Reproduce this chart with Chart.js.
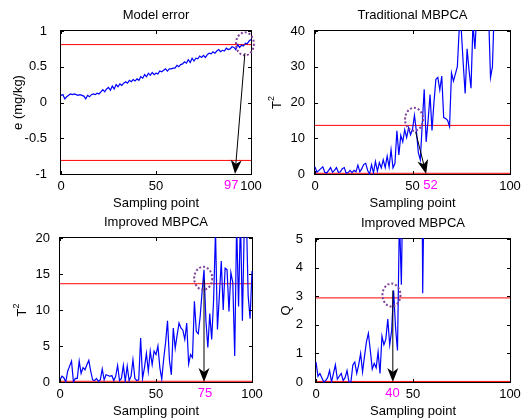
<!DOCTYPE html>
<html>
<head>
<meta charset="utf-8">
<script src="https://cdn.jsdelivr.net/npm/chart.js@4.4.0/dist/chart.umd.min.js"></script>
<style>
body { margin: 0; background: #fff; }
#wrap { position: relative; width: 528px; height: 420px; }
canvas { position: absolute; }
</style>
</head>
<body>
<div id="wrap">
  <canvas id="c1" width="264" height="210" style="left:0;top:0"></canvas>
  <canvas id="c2" width="264" height="210" style="left:264px;top:0"></canvas>
  <canvas id="c3" width="264" height="210" style="left:0;top:210px"></canvas>
  <canvas id="c4" width="264" height="210" style="left:264px;top:210px"></canvas>
</div>
<script>
// sampling points 0..100
const samplePoints = Array.from({ length: 101 }, (_, i) => i);
const xTicks = [0, 50, 100];

// model error e (mg/kg)
const errorValues = [
  0.10, 0.11, 0.05, 0.08, 0.10, 0.12, 0.11, 0.12, 0.11, 0.10,
  0.11, 0.10, 0.09, 0.05, 0.10, 0.08, 0.11, 0.12, 0.11, 0.13,
  0.12, 0.15, 0.18, 0.15, 0.19, 0.21, 0.17, 0.23, 0.19, 0.25,
  0.22, 0.26, 0.24, 0.27, 0.29, 0.27, 0.31, 0.29, 0.32, 0.30,
  0.33, 0.31, 0.36, 0.34, 0.39, 0.36, 0.41, 0.38, 0.42, 0.39,
  0.41, 0.40, 0.44, 0.43, 0.45, 0.47, 0.44, 0.47, 0.47, 0.48,
  0.48, 0.52, 0.50, 0.53, 0.54, 0.57, 0.55, 0.60, 0.56, 0.62,
  0.58, 0.62, 0.61, 0.65, 0.63, 0.66, 0.63, 0.67, 0.69, 0.68,
  0.71, 0.69, 0.72, 0.74, 0.71, 0.73, 0.72, 0.76, 0.74, 0.75,
  0.78, 0.77, 0.74, 0.81, 0.77, 0.80, 0.79, 0.83, 0.82, 0.86,
  0.88
];
const errorLimits = [0.81, -0.81];
const errorTicks = [-1, -0.5, 0, 0.5, 1];

// traditional MBPCA T2
const t2TradValues = [
  2.0, 0.5, 1.0, 1.5, 2.0, 0.5, 0.3, 1.0, 1.8, 0.5,
  1.0, 1.8, 0.4, 0.6, 1.5, 1.8, 0.2, 0.4, 1.0, 0.4,
  1.0, 0.6, 2.5, 0.6, 1.5, 2.7, 3.0, 1.0, 0.0, 2.6,
  0.3, 3.5, 0.8, 3.2, 1.7, 4.0, 1.8, 5.0, 2.0, 6.8,
  1.7, 3.0, 12.1, 5.3, 10.8, 9.0, 12.4, 10.2, 13.0, 11.0,
  12.5, 16.4, 12.0, 6.0, 4.0, 14.0, 23.7, 9.0, 15.0, 22.2,
  12.2, 20.0, 26.5, 27.0, 23.5, 27.4, 15.8, 15.5, 15.0, 13.3,
  28.3, 26.0, 28.0, 30.0, 41.0, 40.5, 31.0, 22.5, 35.0, 29.0,
  24.0, 42.0, 35.0, 45.0, 50.0, 55.0, 48.0, 52.0, 60.0, 45.0,
  27.0, 30.0, 48.0, 55.0, 60.0, 50.0, 70.0, 65.0, 80.0, 75.0,
  90.0
];
const t2TradLimits = [13.6, 0.2];
const t2TradTicks = [0, 10, 20, 30, 40];

// improved MBPCA T2
const t2ImpValues = [
  0.3, 0.8, 0.6, 0.0, 1.5, 2.2, 2.9, 0.0, 0.5, 0.5,
  2.9, 1.2, 2.0, 1.7, 2.4, 3.0, 1.5, 0.3, 0.2, 0.5,
  0.1, 0.3, 1.8, 0.3, 1.0, 0.9, 0.8, 0.9, 0.2, 0.8,
  2.3, 0.2, 0.5, 2.3, 0.1, 2.2, 0.2, 0.8, 3.1, 0.5,
  0.2, 0.3, 6.1, 0.5, 2.0, 4.0, 1.5, 4.3, 2.4, 4.3,
  3.8, 5.0, 2.0, 0.4, 3.2, 5.5, 8.5, 3.0, 1.0, 7.5,
  4.7, 6.5, 8.2, 7.5, 7.2, 5.9, 8.2, 2.5, 3.8, 3.4,
  11.2, 7.0, 6.7, 9.1, 12.5, 15.6, 8.5, 4.8, 9.5, 5.9,
  11.4, 21.0, 7.3, 12.0, 16.8, 10.0, 15.8, 15.6, 9.8, 15.2,
  13.8, 3.6, 22.0, 10.5, 23.0, 8.5, 22.0, 24.0, 12.0, 8.8,
  15.4
];
const t2ImpLimits = [13.65, 0.1];
const t2ImpTicks = [0, 5, 10, 15, 20];

// improved MBPCA Q
const qImpValues = [
  0.70, 0.20, 0.30, 0.15, 0.00, 0.05, 0.15, 0.40, 0.00, 0.30,
  0.60, 0.10, 0.20, 0.30, 0.05, 0.15, 0.40, 0.00, 0.00, 0.60,
  0.70, 0.30, 0.60, 1.00, 0.35, 0.90, 1.40, 1.70, 1.10, 0.45,
  0.65, 0.50, 1.05, 0.30, 1.60, 1.30, 1.50, 2.20, 1.30, 1.80,
  3.20, 1.90, 1.10, 5.80, 3.40, 8.0, 9.0, 11.0, 10.0, 12.0,
  14.0, 11.0, 13.0, 12.0, 15.0, 3.10, 8.5, 12.0, 10.0, 15.0,
  9.0, 14.0, 18.0, 11.0, 16.0, 20.0, 13.0, 17.0, 22.0, 15.0,
  19.0, 24.0, 18.0, 21.0, 26.0, 20.0, 23.0, 28.0, 22.0, 25.0,
  30.0, 24.0, 27.0, 32.0, 26.0, 29.0, 34.0, 28.0, 31.0, 36.0,
  30.0, 33.0, 38.0, 32.0, 35.0, 40.0, 34.0, 37.0, 42.0, 36.0,
  39.0
];
const qImpLimits = [2.94, 0.02];
const qImpTicks = [0, 1, 2, 3, 4, 5];

// first alarm point of each panel, circled peak and arrow (data coords)
const alarmPoints = [97, 52, 75, 40];
const circleCenters = [[96.8, 0.82], [50.8, 15.3], [74.6, 14.4], [38.9, 3.04]];
const arrowStarts = [[96.8, 0.69], [51.6, 11.8], [75, 14.2], [39.6, 3.2]];
const arrowEnds = [[91.6, -1], [57, 0], [75, 0], [39.6, 0]];

const FONT = '"Liberation Sans", Arial, sans-serif';

// yTitle: [main text, superscript]
const panels = [
  { id: 'c1', values: errorValues, limits: errorLimits, yTicks: errorTicks, yMin: -1, yMax: 1,
    title: 'Model error', yTitle: ['e (mg/kg)', ''], area: { left: 61, right: 251, top: 31, bottom: 174 },
    yPad: 6, yTitleDx: -43, alarmDx: -14 },
  { id: 'c2', values: t2TradValues, limits: t2TradLimits, yTicks: t2TradTicks, yMin: 0, yMax: 40,
    title: 'Traditional MBPCA', yTitle: ['T', '2'], area: { left: 51, right: 246, top: 31, bottom: 174 },
    yPad: 2, yTitleDx: -38, alarmDx: 14 },
  { id: 'c3', values: t2ImpValues, limits: t2ImpLimits, yTicks: t2ImpTicks, yMin: 0, yMax: 20,
    title: 'Improved MBPCA', yTitle: ['T', '2'], area: { left: 60, right: 252, top: 28, bottom: 172 },
    yPad: 2, yTitleDx: -38, alarmDx: 1 },
  { id: 'c4', values: qImpValues, limits: qImpLimits, yTicks: qImpTicks, yMin: 0, yMax: 5,
    title: 'Improved MBPCA', yTitle: ['Q', ''], area: { left: 52, right: 246, top: 29, bottom: 172 },
    yPad: 5, yTitleDx: -30, alarmDx: -1 }
];

function drawArrow(ctx, x0, y0, x1, y1) {
  const a = Math.atan2(y1 - y0, x1 - x0);
  const c = Math.cos(a), s = Math.sin(a);
  const L = 14, W = 5.5, N = 10;
  ctx.strokeStyle = '#000';
  ctx.fillStyle = '#000';
  ctx.lineWidth = 1;
  ctx.beginPath();
  ctx.moveTo(x0, y0);
  ctx.lineTo(x1 - N * c, y1 - N * s);
  ctx.stroke();
  const bx = x1 - L * c, by = y1 - L * s;
  ctx.beginPath();
  ctx.moveTo(x1, y1);
  ctx.lineTo(bx - s * W, by + c * W);
  ctx.lineTo(x1 - N * c, y1 - N * s);
  ctx.lineTo(bx + s * W, by - c * W);
  ctx.closePath();
  ctx.fill();
}

const matlabAxes = {
  id: 'matlabAxes',
  beforeDatasetsDraw(chart) {
    const { ctx, chartArea: a } = chart;
    ctx.save();
    ctx.strokeStyle = '#000';
    ctx.lineWidth = 1;
    ctx.strokeRect(Math.round(a.left) - 0.5, Math.round(a.top) - 0.5,
      Math.round(a.right - a.left) + 1, Math.round(a.bottom - a.top) + 1);
    ctx.restore();
  },
  afterDraw(chart, args, opts) {
    const { ctx, chartArea: a, scales } = chart;
    const p = opts.panel, i = opts.index;
    const xs = scales.x, ys = scales.y;
    ctx.save();
    // inward ticks on all four sides
    ctx.strokeStyle = '#000';
    ctx.lineWidth = 1;
    ctx.beginPath();
    xTicks.forEach(v => {
      const x = Math.round(xs.getPixelForValue(v)) + 0.5;
      ctx.moveTo(x, a.bottom); ctx.lineTo(x, a.bottom - 3);
      ctx.moveTo(x, a.top); ctx.lineTo(x, a.top + 3);
    });
    p.yTicks.forEach(v => {
      const y = Math.round(ys.getPixelForValue(v)) + 0.5;
      ctx.moveTo(a.left, y); ctx.lineTo(a.left + 3, y);
      ctx.moveTo(a.right, y); ctx.lineTo(a.right - 3, y);
    });
    ctx.stroke();

    // dotted circle round the first exceeding point
    const cx = xs.getPixelForValue(circleCenters[i][0]);
    const cy = ys.getPixelForValue(circleCenters[i][1]);
    ctx.strokeStyle = '#80409a';
    ctx.lineWidth = 2;
    ctx.setLineDash([2, 2]);
    ctx.beginPath();
    ctx.ellipse(cx, cy, 9, 11.5, 0, 0, Math.PI * 2);
    ctx.stroke();
    ctx.setLineDash([]);

    drawArrow(ctx,
      xs.getPixelForValue(arrowStarts[i][0]), ys.getPixelForValue(arrowStarts[i][1]),
      xs.getPixelForValue(arrowEnds[i][0]), ys.getPixelForValue(arrowEnds[i][1]));

    // texts
    ctx.fillStyle = '#000';
    ctx.font = '13px ' + FONT;
    ctx.textAlign = 'center';
    ctx.textBaseline = 'middle';
    const midX = (a.left + a.right) / 2;
    ctx.fillText(p.title, midX, a.top - 16);
    ctx.fillText('Sampling point', midX, a.bottom + 29);

    ctx.fillStyle = '#ff00ff';
    ctx.fillText(String(alarmPoints[i]), xs.getPixelForValue(alarmPoints[i]) + p.alarmDx, a.bottom + 11);

    // rotated y title, with optional superscript
    ctx.fillStyle = '#000';
    ctx.translate(a.left + p.yTitleDx, (a.top + a.bottom) / 2);
    ctx.rotate(-Math.PI / 2);
    const [main, sup] = p.yTitle;
    const mw = ctx.measureText(main).width;
    ctx.font = '9px ' + FONT;
    const sw = sup ? ctx.measureText(sup).width : 0;
    const x0 = -(mw + sw) / 2;
    ctx.textAlign = 'left';
    ctx.font = '13px ' + FONT;
    ctx.fillText(main, x0, 0);
    if (sup) {
      ctx.font = '9px ' + FONT;
      ctx.fillText(sup, x0 + mw, -5);
    }
    ctx.restore();
  }
};

panels.forEach((p, i) => {
  const W = 264, H = 210;
  new Chart(document.getElementById(p.id), {
    type: 'line',
    data: {
      datasets: [
        {
          data: p.values.map((v, k) => ({ x: samplePoints[k], y: v })),
          borderColor: '#0000ff',
          borderWidth: 1.2
        },
        ...p.limits.map(lim => ({
          data: [{ x: samplePoints[0], y: lim }, { x: samplePoints[samplePoints.length - 1], y: lim }],
          borderColor: '#ff0000',
          borderWidth: 1
        }))
      ]
    },
    options: {
      responsive: false,
      animation: false,
      events: [],
      clip: 1,
      layout: { padding: { left: 0, top: p.area.top, right: W - p.area.right, bottom: 0 } },
      elements: { point: { radius: 0 }, line: { tension: 0 } },
      plugins: {
        legend: { display: false },
        tooltip: { enabled: false },
        matlabAxes: { panel: p, index: i }
      },
      scales: {
        x: {
          type: 'linear', min: 0, max: 100,
          afterBuildTicks: s => { s.ticks = xTicks.map(v => ({ value: v })); },
          afterFit: s => { s.height = H - p.area.bottom; },
          grid: { display: false },
          border: { display: false },
          ticks: { color: '#000', padding: -3, maxRotation: 0, autoSkip: false,
                   font: { family: FONT, size: 13 }, callback: v => String(v) }
        },
        y: {
          type: 'linear', min: p.yMin, max: p.yMax,
          afterBuildTicks: s => { s.ticks = p.yTicks.map(v => ({ value: v })); },
          afterFit: s => { s.width = p.area.left; },
          grid: { display: false },
          border: { display: false },
          ticks: { color: '#000', padding: p.yPad, autoSkip: false,
                   font: { family: FONT, size: 13 }, callback: v => String(v) }
        }
      }
    },
    plugins: [matlabAxes]
  });
});
</script>
</body>
</html>
